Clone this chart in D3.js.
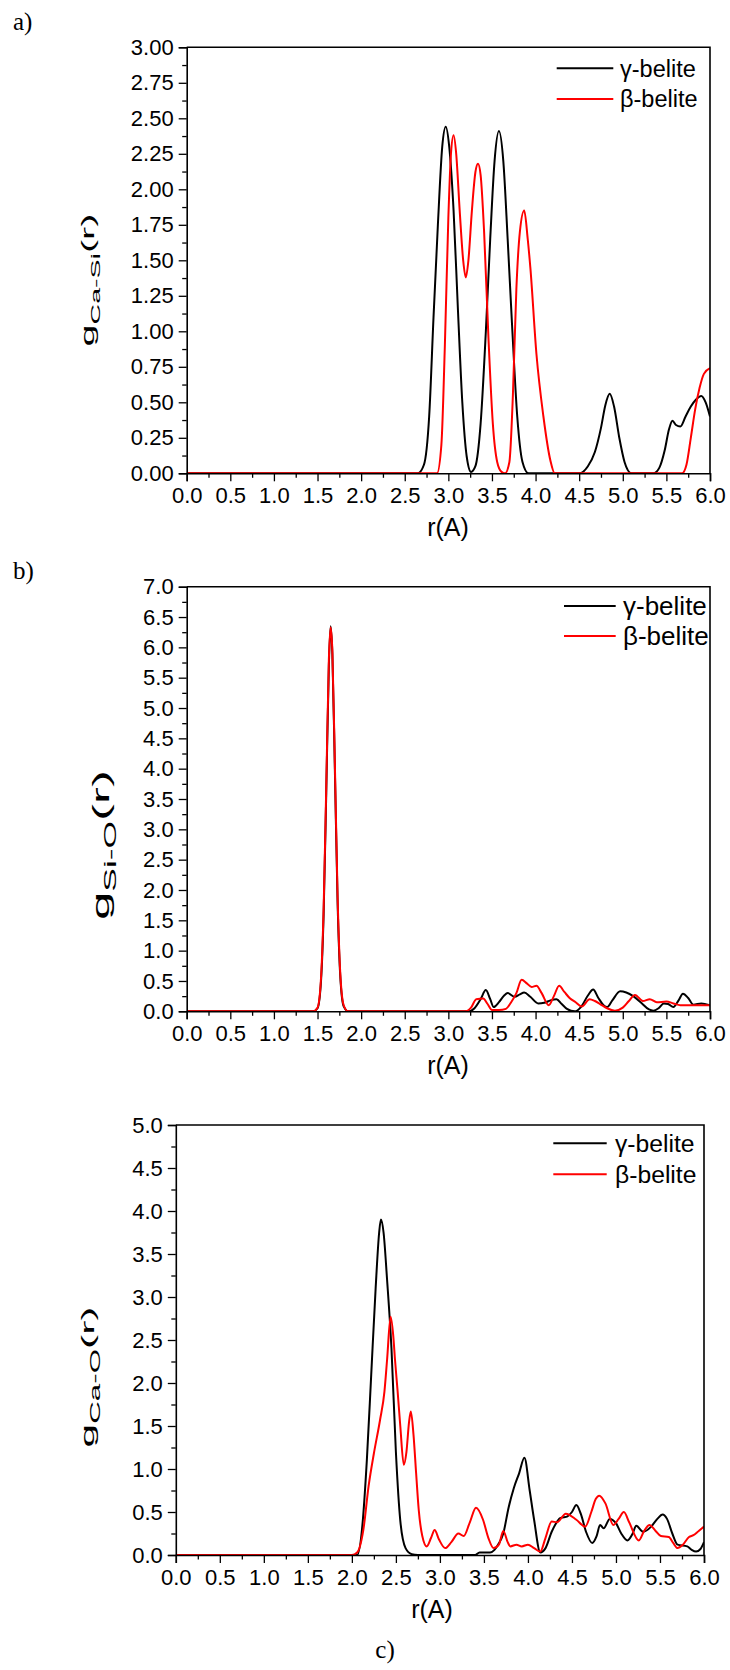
<!DOCTYPE html>
<html>
<head>
<meta charset="utf-8">
<script src="https://cdn.jsdelivr.net/npm/d3@7"></script>
<style>
  html, body { margin: 0; padding: 0; background: #fff; }
  svg { display: block; }
  text { font-family: "Liberation Sans", Arial, sans-serif; fill: #000; }
</style>
</head>
<body>
<svg id="chart" width="730" height="1670"></svg>
<script>
// ---------------- DATA ----------------
const seriesNames = ["γ-belite", "β-belite"];
const seriesColors = ["#000000", "#ff0000"];

// Panel a) g Ca-Si(r)
const rGammaA = [0, 2.65, 2.72, 2.78, 2.83, 2.88, 2.93, 2.97, 3.01, 3.06, 3.11, 3.16, 3.21, 3.26, 3.31, 3.37, 3.43, 3.48, 3.53, 3.58, 3.63, 3.68, 3.73, 3.79, 3.85, 3.92, 4.50, 4.60, 4.68, 4.75, 4.80, 4.85, 4.90, 4.96, 5.02, 5.10, 5.35, 5.42, 5.48, 5.53, 5.57, 5.61, 5.66, 5.72, 5.78, 5.84, 5.90, 5.95, 6.0];
const gGammaA = [0, 0, 0.06, 0.4, 1.1, 1.75, 2.3, 2.44, 2.3, 1.85, 1.15, 0.5, 0.12, 0.01, 0.05, 0.35, 1.0, 1.65, 2.2, 2.41, 2.2, 1.65, 1.05, 0.4, 0.08, 0, 0, 0.05, 0.15, 0.32, 0.48, 0.56, 0.47, 0.25, 0.08, 0, 0, 0.04, 0.16, 0.31, 0.37, 0.34, 0.33, 0.40, 0.47, 0.52, 0.545, 0.50, 0.40];
const rBetaA = [0, 2.87, 2.92, 2.96, 3.00, 3.03, 3.06, 3.09, 3.13, 3.17, 3.20, 3.23, 3.27, 3.31, 3.34, 3.37, 3.41, 3.46, 3.51, 3.56, 3.61, 3.65, 3.70, 3.74, 3.78, 3.82, 3.87, 3.91, 3.94, 4.01, 4.09, 4.17, 4.22, 5.68, 5.73, 5.78, 5.83, 5.88, 5.93, 6.0];
const gBetaA = [0, 0, 0.2, 0.9, 1.8, 2.25, 2.38, 2.25, 1.85, 1.5, 1.38, 1.5, 1.85, 2.12, 2.18, 2.1, 1.7, 0.95, 0.35, 0.08, 0.01, 0, 0.08, 0.55, 1.3, 1.7, 1.85, 1.65, 1.45, 0.84, 0.40, 0.09, 0, 0, 0.06, 0.25, 0.45, 0.6, 0.7, 0.74];

// Panel b) g Si-O(r)
const rGammaB = [0, 1.45, 1.50, 1.54, 1.57, 1.60, 1.63, 1.65, 1.67, 1.70, 1.73, 1.76, 1.80, 1.85, 3.23, 3.30, 3.37, 3.43, 3.48, 3.52, 3.58, 3.64, 3.68, 3.76, 3.82, 3.87, 3.94, 4.03, 4.10, 4.17, 4.24, 4.30, 4.36, 4.45, 4.52, 4.60, 4.66, 4.72, 4.78, 4.82, 4.88, 4.97, 5.04, 5.12, 5.22, 5.30, 5.35, 5.41, 5.47, 5.52, 5.58, 5.64, 5.69, 5.75, 5.81, 5.90, 6.0];
const gGammaB = [0, 0, 0.05, 0.5, 1.6, 3.6, 5.7, 6.35, 5.9, 3.9, 1.8, 0.6, 0.08, 0, 0, 0.05, 0.2, 0.35, 0.2, 0.07, 0.15, 0.26, 0.30, 0.24, 0.28, 0.31, 0.24, 0.13, 0.14, 0.18, 0.2, 0.12, 0.04, 0, 0.07, 0.26, 0.36, 0.22, 0.1, 0.07, 0.18, 0.33, 0.31, 0.25, 0.13, 0.03, 0.01, 0.05, 0.13, 0.12, 0.07, 0.18, 0.29, 0.22, 0.11, 0.13, 0.1];
const rBetaB = [0, 1.45, 1.50, 1.54, 1.57, 1.60, 1.63, 1.65, 1.67, 1.70, 1.73, 1.76, 1.80, 1.85, 3.20, 3.26, 3.32, 3.40, 3.45, 3.50, 3.58, 3.66, 3.72, 3.78, 3.84, 3.90, 3.955, 4.01, 4.07, 4.15, 4.21, 4.27, 4.33, 4.39, 4.46, 4.53, 4.62, 4.68, 4.74, 4.82, 4.91, 5.00, 5.07, 5.14, 5.23, 5.31, 5.39, 5.50, 5.58, 5.66, 5.89, 6.0];
const gBetaB = [0, 0, 0.06, 0.55, 1.7, 3.7, 5.8, 6.33, 5.95, 4.0, 1.9, 0.65, 0.1, 0, 0, 0.06, 0.2, 0.21, 0.12, 0.02, 0.02, 0.04, 0.15, 0.3, 0.52, 0.46, 0.40, 0.42, 0.3, 0.1, 0.25, 0.42, 0.32, 0.22, 0.15, 0.08, 0.2, 0.17, 0.12, 0.05, 0.01, 0.06, 0.17, 0.27, 0.17, 0.2, 0.15, 0.16, 0.13, 0.10, 0.1, 0.1];

// Panel c) g Ca-O(r)
const rGammaC = [0, 2.06, 2.12, 2.17, 2.22, 2.27, 2.31, 2.33, 2.36, 2.40, 2.45, 2.50, 2.55, 2.61, 2.68, 2.75, 3.40, 3.45, 3.52, 3.57, 3.62, 3.66, 3.72, 3.78, 3.84, 3.90, 3.96, 4.02, 4.07, 4.14, 4.20, 4.27, 4.37, 4.45, 4.50, 4.55, 4.60, 4.66, 4.73, 4.78, 4.82, 4.86, 4.93, 5.00, 5.06, 5.13, 5.19, 5.23, 5.31, 5.40, 5.47, 5.53, 5.58, 5.64, 5.70, 5.81, 5.86, 5.91, 5.96, 6.0];
const gGammaC = [0, 0, 0.35, 1.1, 2.1, 3.1, 3.75, 3.90, 3.75, 3.2, 2.4, 1.2, 0.4, 0.08, 0.01, 0, 0, 0.03, 0.03, 0.03, 0.06, 0.12, 0.25, 0.55, 0.78, 0.95, 1.13, 0.75, 0.41, 0.03, 0.08, 0.27, 0.43, 0.45, 0.5, 0.58, 0.48, 0.27, 0.14, 0.22, 0.35, 0.31, 0.42, 0.37, 0.25, 0.17, 0.25, 0.34, 0.27, 0.33, 0.42, 0.47, 0.42, 0.25, 0.12, 0.10, 0.06, 0.04, 0.07, 0.15];
const rBetaC = [0, 2.00, 2.06, 2.13, 2.19, 2.25, 2.32, 2.37, 2.40, 2.44, 2.47, 2.49, 2.52, 2.55, 2.59, 2.62, 2.65, 2.67, 2.70, 2.73, 2.76, 2.80, 2.85, 2.90, 2.94, 2.99, 3.06, 3.13, 3.21, 3.27, 3.34, 3.41, 3.49, 3.55, 3.61, 3.67, 3.72, 3.77, 3.80, 3.87, 3.93, 4.00, 4.07, 4.14, 4.20, 4.27, 4.33, 4.43, 4.55, 4.65, 4.72, 4.77, 4.81, 4.88, 4.97, 5.03, 5.09, 5.15, 5.26, 5.32, 5.38, 5.45, 5.51, 5.60, 5.65, 5.70, 5.76, 5.83, 5.88, 5.94, 6.0];
const gBetaC = [0, 0, 0.03, 0.29, 0.8, 1.18, 1.57, 1.9, 2.27, 2.77, 2.55, 2.27, 1.9, 1.5, 1.05, 1.2, 1.55, 1.67, 1.4, 0.95, 0.52, 0.22, 0.10, 0.2, 0.29, 0.18, 0.08, 0.15, 0.25, 0.22, 0.38, 0.55, 0.41, 0.2, 0.08, 0.12, 0.28, 0.15, 0.1, 0.12, 0.1, 0.12, 0.08, 0.04, 0.2, 0.39, 0.38, 0.48, 0.41, 0.33, 0.5, 0.65, 0.69, 0.6, 0.35, 0.42, 0.50, 0.38, 0.17, 0.28, 0.35, 0.28, 0.22, 0.21, 0.14, 0.08, 0.12, 0.21, 0.23, 0.28, 0.33];

// Tick values
const xTicksMajor = [0, 0.5, 1, 1.5, 2, 2.5, 3, 3.5, 4, 4.5, 5, 5.5, 6];
const yTicksA = [0, 0.25, 0.5, 0.75, 1, 1.25, 1.5, 1.75, 2, 2.25, 2.5, 2.75, 3];
const yTicksB = [0, 0.5, 1, 1.5, 2, 2.5, 3, 3.5, 4, 4.5, 5, 5.5, 6, 6.5, 7];
const yTicksC = [0, 0.5, 1, 1.5, 2, 2.5, 3, 3.5, 4, 4.5, 5];

// ---------------- DRAWING ----------------
const svg = d3.select("#chart");
svg.append("rect").attr("width", 730).attr("height", 1670).attr("fill", "#fff");

function zip(r, g) { return r.map((v, i) => ({ r: v, g: g[i] })); }

const panels = [
  { id: "a", left: 186.7, right: 710, top: 47.3, bottom: 473.3, yMax: 3, yTicks: yTicksA, yStep: 0.25, yFmt: ".2f",
    sub: "Ca-Si", ylab: { x: 93.5, y: 280, len: 133, fs: 18, sfs: 13, sdy: 6 },
    lines: [zip(rGammaA, gGammaA), zip(rBetaA, gBetaA)],
    leg: { x0: 556.7, x1: 613.3, tx: 620, y: [68.3, 99], fs: 23.5 },
    xlabX: 448,
    tag: { text: "a)", x: 13, y: 30 } },
  { id: "b", left: 186.7, right: 710, top: 586.7, bottom: 1011.3, yMax: 7, yTicks: yTicksB, yStep: 0.5, yFmt: ".1f",
    sub: "Si-O", ylab: { x: 109, y: 845, len: 150, fs: 23, sfs: 16, sdy: 7 },
    lines: [zip(rGammaB, gGammaB), zip(rBetaB, gBetaB)],
    leg: { x0: 564, x1: 615.7, tx: 623, y: [606, 636], fs: 26 },
    xlabX: 448,
    tag: { text: "b)", x: 13, y: 579 } },
  { id: "c", left: 175.8, right: 704, top: 1125, bottom: 1555, yMax: 5, yTicks: yTicksC, yStep: 0.5, yFmt: ".1f",
    sub: "Ca-O", ylab: { x: 93.5, y: 1377, len: 141, fs: 19, sfs: 14, sdy: 6.5 },
    lines: [zip(rGammaC, gGammaC), zip(rBetaC, gBetaC)],
    leg: { x0: 553.3, x1: 606.7, tx: 615, y: [1143.3, 1174.3], fs: 24.7 },
    xlabX: 432,
    tag: { text: "c)", x: 385, y: 1658, anchor: "middle" } }
];

const tickFs = 22;

panels.forEach(p => {
  const x = d3.scaleLinear().domain([0, 6]).range([p.left, p.right]);
  const y = d3.scaleLinear().domain([0, p.yMax]).range([p.bottom, p.top]);
  const g = svg.append("g");

  g.append("clipPath").attr("id", "clip-" + p.id)
    .append("rect").attr("x", p.left).attr("y", p.top - 2)
    .attr("width", p.right - p.left).attr("height", p.bottom - p.top + 2);

  const line = d3.line().x(d => x(d.r)).y(d => y(d.g)).curve(d3.curveMonotoneX);
  p.lines.forEach((data, i) => {
    g.append("path").datum(data)
      .attr("clip-path", "url(#clip-" + p.id + ")")
      .attr("fill", "none").attr("stroke", seriesColors[i])
      .attr("stroke-width", 2).attr("stroke-linejoin", "round")
      .attr("d", line);
  });

  // x axis
  const xMinor = d3.range(0.25, 6, 0.5);
  const gx = g.append("g").attr("transform", `translate(0,${p.bottom})`)
    .call(d3.axisBottom(x).tickValues(xTicksMajor).tickFormat(d3.format(".1f")).tickSize(8).tickPadding(6));
  g.append("g").attr("transform", `translate(0,${p.bottom})`)
    .call(d3.axisBottom(x).tickValues(xMinor).tickFormat("").tickSize(4.5))
    .select(".domain").remove();

  // y axis
  const yMinor = d3.range(p.yStep / 2, p.yMax, p.yStep);
  const gy = g.append("g").attr("transform", `translate(${p.left},0)`)
    .call(d3.axisLeft(y).tickValues(p.yTicks).tickFormat(d3.format(p.yFmt)).tickSize(8).tickPadding(5));
  g.append("g").attr("transform", `translate(${p.left},0)`)
    .call(d3.axisLeft(y).tickValues(yMinor).tickFormat("").tickSize(4.5))
    .select(".domain").remove();

  [gx, gy].forEach(ax => {
    ax.selectAll("text").style("font-size", tickFs + "px").style("font-family", "Liberation Sans, Arial, sans-serif");
    ax.select(".domain").attr("stroke-width", 1.6);
  });
  g.selectAll(".tick line").attr("stroke-width", 1.3);
  gx.selectAll("text").attr("dy", "0.71em");

  // frame top & right
  g.append("path").attr("fill", "none").attr("stroke", "#000").attr("stroke-width", 1.6)
    .attr("d", `M${p.left},${p.top}H${p.right}V${p.bottom}`);

  // x label
  g.append("text").attr("x", p.xlabX).attr("y", p.bottom + 63)
    .attr("text-anchor", "middle").style("font-size", "25px").text("r(A)");

  // y label (elongated along the text direction, as in the reference)
  const yl = g.append("text").attr("text-anchor", "middle").style("font-size", p.ylab.fs + "px");
  yl.append("tspan").text("g");
  yl.append("tspan").attr("dy", p.ylab.sdy).style("font-size", p.ylab.sfs + "px").text(p.sub);
  yl.append("tspan").attr("dy", -p.ylab.sdy).text("(r)");
  const natural = yl.node().getComputedTextLength() || 70;
  const sx = p.ylab.len / natural;
  yl.attr("transform", `translate(${p.ylab.x},${p.ylab.y}) rotate(-90) scale(${sx},1)`);

  // legend
  seriesNames.forEach((name, i) => {
    g.append("line").attr("x1", p.leg.x0).attr("x2", p.leg.x1)
      .attr("y1", p.leg.y[i]).attr("y2", p.leg.y[i])
      .attr("stroke", seriesColors[i]).attr("stroke-width", 2);
    g.append("text").attr("x", p.leg.tx).attr("y", p.leg.y[i]).attr("dy", "0.36em")
      .style("font-size", p.leg.fs + "px").text(name);
  });

  // panel tag
  g.append("text").attr("x", p.tag.x).attr("y", p.tag.y)
    .attr("text-anchor", p.tag.anchor || "start")
    .style("font-family", "Liberation Serif, 'Times New Roman', serif")
    .style("font-size", "25px").text(p.tag.text);
});
</script>
</body>
</html>
